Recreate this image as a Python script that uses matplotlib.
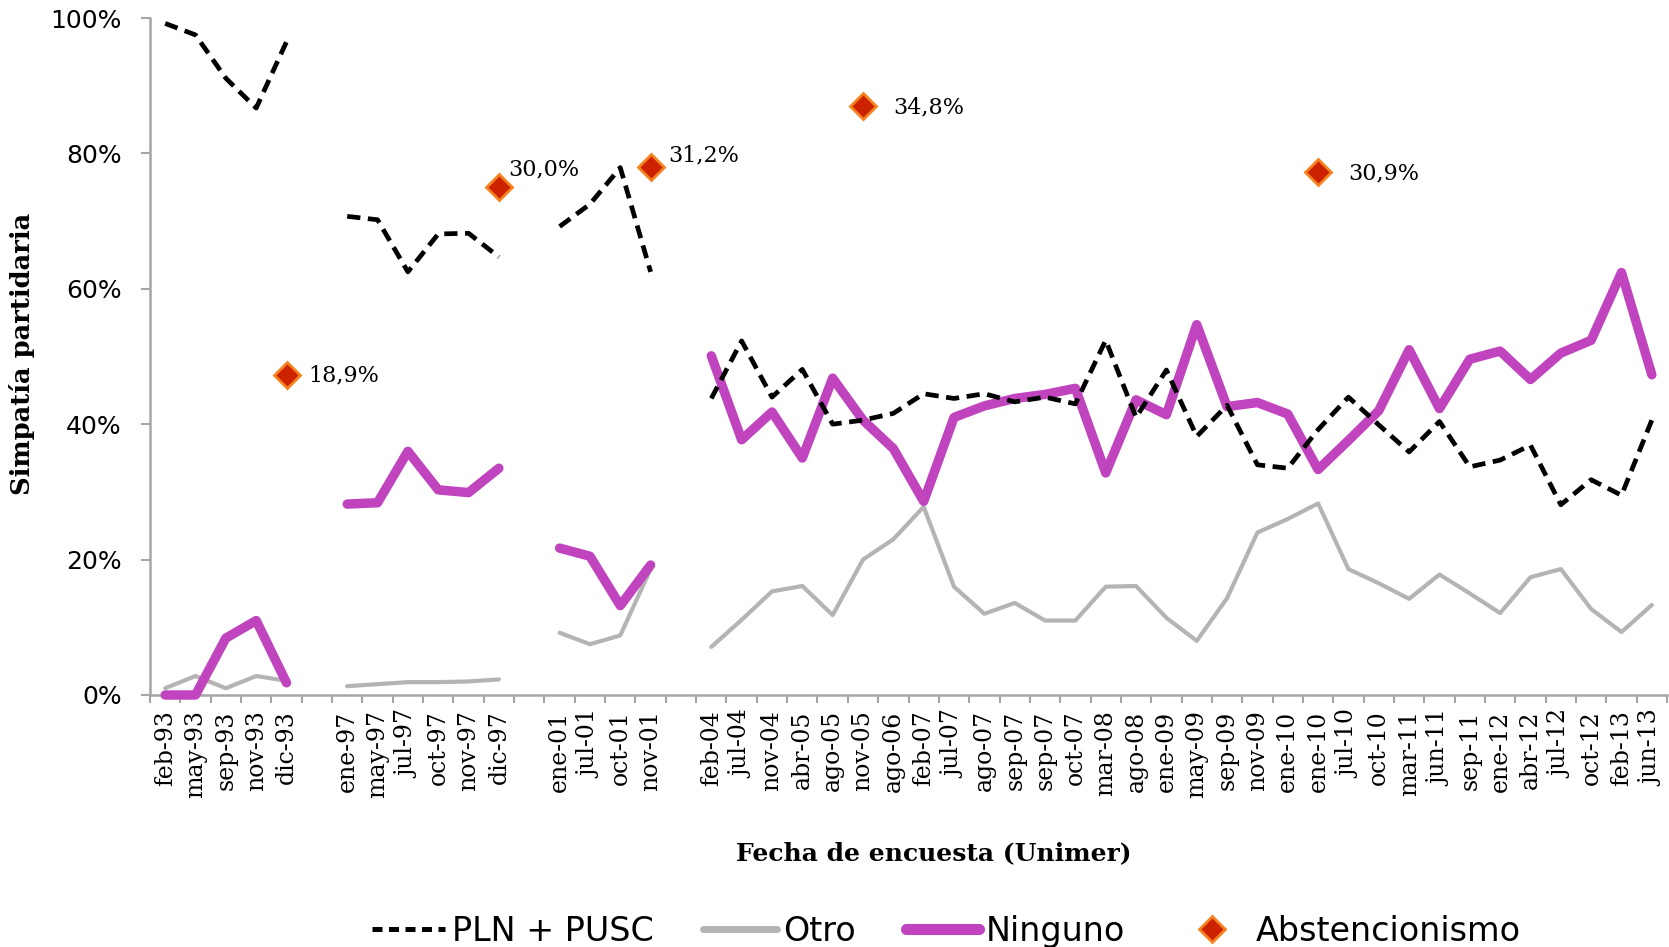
import numpy as np
import matplotlib
matplotlib.use("Agg")
import matplotlib.pyplot as plt
from matplotlib.lines import Line2D

# Fechas de encuesta ('' = hueco entre periodos)
fechas = ['feb-93', 'may-93', 'sep-93', 'nov-93', 'dic-93', '',
          'ene-97', 'may-97', 'jul-97', 'oct-97', 'nov-97', 'dic-97', '',
          'ene-01', 'jul-01', 'oct-01', 'nov-01', '',
          'feb-04', 'jul-04', 'nov-04', 'abr-05', 'ago-05', 'nov-05', 'ago-06',
          'feb-07', 'jul-07', 'ago-07', 'sep-07', 'sep-07', 'oct-07', 'mar-08',
          'ago-08', 'ene-09', 'may-09', 'sep-09', 'nov-09', 'ene-10', 'ene-10',
          'jul-10', 'oct-10', 'mar-11', 'jun-11', 'sep-11', 'ene-12', 'abr-12',
          'jul-12', 'oct-12', 'feb-13', 'jun-13']

N = None
# Simpatia partidaria (%)
pln_pusc = [99.2, 97.5, 91.1, 86.7, 96.5, N,
            70.7, 70.2, 62.5, 68.1, 68.2, 64.7, N,
            69.2, 72.5, 77.9, 62.5, N,
            43.8, 52.3, 44.0, 48.1, 40.0, 40.6, 41.6, 44.5, 43.8, 44.5, 43.3,
            44.0, 43.0, 52.4, 41.0, 48.0, 38.2, 42.8, 34.0, 33.5, 39.2, 44.0,
            39.9, 35.9, 40.4, 33.7, 34.7, 36.9, 28.1, 31.8, 29.5, 40.6]

otro = [1.0, 2.8, 1.0, 2.8, 2.1, N,
        1.3, 1.6, 1.9, 1.9, 2.0, 2.3, N,
        9.2, 7.5, 8.8, 18.6, N,
        7.1, 11.1, 15.3, 16.1, 11.8, 20.0, 23.0, 27.8, 16.0, 12.0, 13.6,
        11.0, 11.0, 16.0, 16.1, 11.4, 8.0, 14.3, 24.0, 26.0, 28.3, 18.6,
        16.5, 14.2, 17.8, 15.0, 12.1, 17.4, 18.6, 12.7, 9.3, 13.3]

ninguno = [0.0, 0.0, 8.4, 11.0, 1.8, N,
           28.2, 28.4, 36.0, 30.3, 29.9, 33.5, N,
           21.7, 20.5, 13.2, 19.2, N,
           50.1, 37.7, 41.8, 35.0, 46.8, 40.6, 36.4, 28.6, 41.0, 42.7, 43.8,
           44.4, 45.3, 32.8, 43.6, 41.4, 54.7, 42.6, 43.2, 41.5, 33.3, 37.6,
           42.0, 51.0, 42.3, 49.6, 50.8, 46.6, 50.5, 52.4, 62.4, 47.3]

# Abstencionismo en elecciones (eje secundario oculto, 0-40%)
abstencion = [N] * len(fechas)
abstencion[4] = 18.9
abstencion[11] = 30.0
abstencion[16] = 31.2
abstencion[23] = 34.8
abstencion[38] = 30.9

# desplazamiento de etiquetas (puntos)
label_offsets = {4: (16, 0), 11: (7, 13), 16: (13, 8), 23: (22, -1), 38: (22, -1)}


def arr(v):
    return np.array([np.nan if a is None else a for a in v], dtype=float) / 100


x = np.arange(len(fechas))
gris = '#A6A6A6'

fig = plt.figure(figsize=(16.69, 9.47), dpi=100)
ax = fig.add_axes([150 / 1669, 1 - 695 / 947, 1517 / 1669, 677 / 947])

l_otro, = ax.plot(x, arr(otro), color='#B4B4B4', lw=3.0, solid_joinstyle='round',
                  solid_capstyle='round', zorder=2, clip_on=False)
l_ning, = ax.plot(x, arr(ninguno), color='#C144BF', lw=6.8, solid_joinstyle='round',
                  solid_capstyle='round', zorder=3, clip_on=False)
l_pln, = ax.plot(x, arr(pln_pusc), color='black', lw=3.4, ls=(0, (2.8, 1.6)),
                 dash_capstyle='butt', zorder=4, clip_on=False)

ax.set_xlim(-0.5, len(fechas) - 0.5)
ax.set_ylim(0, 1)
ax.set_yticks(np.arange(0, 1.01, 0.2))
ax.set_yticklabels([f'{int(round(v * 100))}%' for v in np.arange(0, 1.01, 0.2)],
                   fontsize=18, family='DejaVu Sans')
ax.tick_params(axis='y', length=6.5, width=1.5, color=gris, pad=14)

ax.set_xticks(np.arange(-0.5, len(fechas), 1))
ax.set_xticklabels([])
ax.tick_params(axis='x', which='major', length=6, width=1.5, color=gris)
ax.set_xticks(x, minor=True)
ax.set_xticklabels(fechas, minor=True, rotation=90, fontsize=17, family='DejaVu Serif')
ax.tick_params(axis='x', which='minor', length=0, pad=11)

for s in ['top', 'right']:
    ax.spines[s].set_visible(False)
for s in ['left', 'bottom']:
    ax.spines[s].set_color(gris)
    ax.spines[s].set_linewidth(1.8)

ax2 = ax.twinx()
ax2.set_ylim(0, 0.4)
ax2.axis('off')
m_abs, = ax2.plot(x, arr(abstencion), 'D', ms=13.5, mfc='#CC2200', mec='#F5821F',
                  mew=2, zorder=5, clip_on=False)
for i, v in enumerate(abstencion):
    if v is None:
        continue
    dx, dy = label_offsets[i]
    ax2.annotate(f'{v:.1f}%'.replace('.', ','), (i, v / 100), xytext=(dx, dy),
                 textcoords='offset points', va='center', ha='left',
                 fontsize=16, family='DejaVu Serif')

fig.text(22 / 1669, 1 - 354 / 947, 'Simpatía partidaria', rotation=90, ha='center',
         va='center', fontsize=18.5, fontweight='bold', family='DejaVu Serif')
fig.text(934 / 1669, 1 - 853 / 947, 'Fecha de encuesta (Unimer)', ha='center',
         va='center', fontsize=18, fontweight='bold', family='DejaVu Serif')

h_pln = Line2D([], [], color='black', lw=3.6, ls=(0, (2.0, 1.3)))
h_otro = Line2D([], [], color='#B4B4B4', lw=5, solid_capstyle='round')
h_ning = Line2D([], [], color='#C144BF', lw=8, solid_capstyle='round')
h_abs = Line2D([], [], ls='none', marker='D', ms=13, mfc='#CC2200', mec='#F5821F', mew=2)
fig.legend([h_pln, h_otro, h_ning, h_abs],
           ['PLN + PUSC', 'Otro', 'Ninguno', 'Abstencionismo'],
           loc='center', bbox_to_anchor=(946 / 1669, 1 - 931 / 947), ncol=4,
           frameon=False, fontsize=24, handlelength=2.2, handletextpad=0.2,
           columnspacing=1.5, borderpad=0, borderaxespad=0)

fig.savefig('out.png', dpi=100)
